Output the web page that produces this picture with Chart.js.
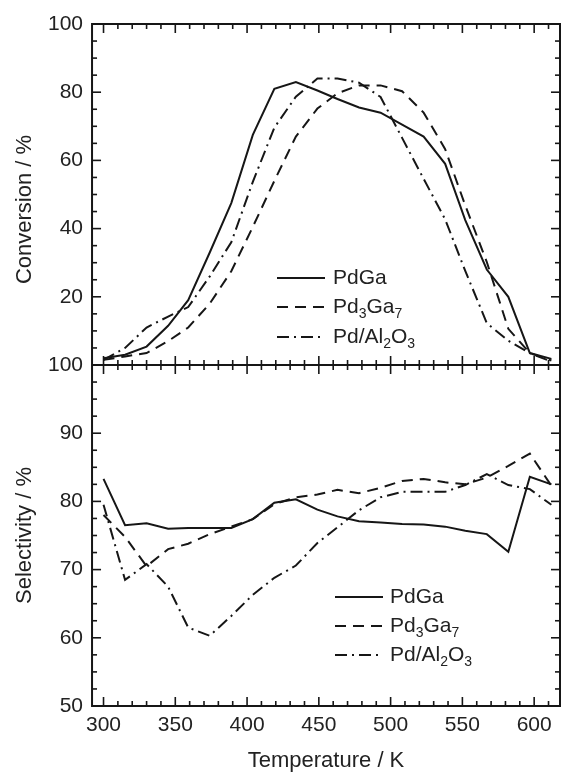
<!DOCTYPE html>
<html>
<head>
<meta charset="utf-8">
<script src="https://cdn.jsdelivr.net/npm/chart.js@4.4.1/dist/chart.umd.min.js"></script>
<style>
  html, body { margin: 0; background: #fff; }
  #wrap { position: relative; width: 563px; height: 775px; }
</style>
</head>
<body>
<div id="wrap"><canvas id="chart"></canvas></div>
<script>
// temperature ramp (K), shared by all runs
const temperature = [300, 315, 330, 345, 359, 374, 389, 404, 419, 434, 449,
                     463, 478, 493, 508, 523, 538, 552, 567, 582, 597, 612];

// conversion (%)
const convPdGa   = [2, 3, 5.4, 11.5, 19, 33, 47.5, 67.5, 81, 83, 80.5,
                    78, 75.5, 74, 70.5, 67, 59, 42.5, 28, 20, 3.5, 1.8];
const convPd3Ga7 = [1.5, 2.5, 3.5, 7, 11, 18, 27.5, 40.5, 54, 67, 75.2,
                    79.7, 82, 82, 80.3, 74, 63.3, 46.8, 30.2, 10.6, 3.5, 1.3];
const convPdAl   = [1.5, 5, 11, 14.2, 17, 26, 36, 53.7, 69.6, 78.7, 84,
                    84, 82.8, 78.6, 66.6, 54.6, 42.7, 27.6, 12.3, 7.1, 3.5, 1];

// selectivity (%)
const selPdGa   = [83.3, 76.5, 76.8, 76, 76.1, 76.1, 76.1, 77.4, 79.8, 80.3, 78.8,
                   77.8, 77.1, 76.9, 76.7, 76.6, 76.3, 75.7, 75.2, 72.6, 83.6, 82.5];
const selPd3Ga7 = [78, 74.8, 70.5, 73, 73.8, 75.2, 76.3, 77.4, 79.6, 80.6, 81,
                   81.7, 81.2, 82, 83, 83.3, 82.8, 82.5, 83.5, 85.2, 87, 82.3];
const selPdAl   = [79.5, 68.5, 70.8, 67.5, 61.5, 60.3, 63.2, 66.3, 68.8, 70.6, 73.9,
                   76.2, 78.7, 80.6, 81.4, 81.4, 81.4, 82.4, 84, 82.4, 81.8, 79.5];

// "_n" marks a subscript digit
const seriesNames = ['PdGa', 'Pd_3Ga_7', 'Pd/Al_2O_3'];

const FONT = '"Liberation Sans", Arial, sans-serif';
const INK = '#161616';
const dashes = [[], [11, 7], [12, 5, 2, 5]];

const toPoints = (ys) => temperature.map((t, i) => ({ x: t, y: ys[i] }));

const makeSet = (values, idx, axis) => ({
  label: seriesNames[idx],
  data: toPoints(values),
  yAxisID: axis,
  borderColor: INK,
  borderWidth: 2,
  borderDash: dashes[idx],
  pointRadius: 0,
  tension: 0,
  fill: false,
});

function drawName(ctx, name, x, y) {
  let cx = x;
  const parts = name.split(/(_\d)/).filter(Boolean);
  for (const p of parts) {
    const sub = p[0] === '_';
    const txt = sub ? p.slice(1) : p;
    ctx.font = (sub ? '14px ' : '21px ') + FONT;
    ctx.fillText(txt, cx, sub ? y + 7 : y);
    cx += ctx.measureText(txt).width;
  }
}

// frame, inward ticks on every side and the panel divider
const framePlugin = {
  id: 'frame',
  afterDatasetsDraw(chart) {
    const { ctx, chartArea: a, scales } = chart;
    const x = scales.x, yc = scales.yConv, ys = scales.ySel;
    const mid = yc.getPixelForValue(0);
    const seg = (x1, y1, x2, y2) => {
      ctx.beginPath(); ctx.moveTo(x1, y1); ctx.lineTo(x2, y2); ctx.stroke();
    };
    ctx.save();
    ctx.strokeStyle = INK;
    ctx.setLineDash([]);
    ctx.lineWidth = 2;
    ctx.strokeRect(a.left, a.top, a.width, a.height);
    seg(a.left, mid, a.right, mid);

    ctx.lineWidth = 1.6;
    for (let t = 300; t <= 610; t += 10) {
      const px = x.getPixelForValue(t);
      const len = t % 50 === 0 ? 9 : 5;
      seg(px, a.top, px, a.top + len);
      seg(px, a.bottom, px, a.bottom - len);
      seg(px, mid - len, px, mid + len);
    }
    for (let v = 0; v <= 100; v += 5) {
      const py = yc.getPixelForValue(v);
      const len = v % 20 === 0 ? 9 : 5;
      seg(a.left, py, a.left + len, py);
      seg(a.right, py, a.right - len, py);
    }
    for (let v = 50; v <= 100; v += 2.5) {
      const py = ys.getPixelForValue(v);
      const len = v % 10 === 0 ? 9 : 5;
      seg(a.left, py, a.left + len, py);
      seg(a.right, py, a.right - len, py);
    }
    ctx.restore();
  },
};

// axis titles and the two legends
const labelPlugin = {
  id: 'labels',
  afterDraw(chart) {
    const { ctx, chartArea: a, scales } = chart;
    const mid = scales.yConv.getPixelForValue(0);
    ctx.save();
    ctx.fillStyle = '#222';
    ctx.textBaseline = 'middle';
    ctx.textAlign = 'center';
    ctx.font = '22px ' + FONT;
    ctx.fillText('Temperature / K', (a.left + a.right) / 2, a.bottom + 55);

    const vTitle = (txt, cx, cy) => {
      ctx.save();
      ctx.translate(cx, cy);
      ctx.rotate(-Math.PI / 2);
      ctx.fillText(txt, 0, 0);
      ctx.restore();
    };
    vTitle('Conversion / %', a.left - 67, (a.top + mid) / 2 + 15);
    vTitle('Selectivity / %', a.left - 67, (mid + a.bottom) / 2);

    ctx.textAlign = 'left';
    const legends = [
      { x0: 277, x1: 325, tx: 333, rows: [278, 307, 337] },
      { x0: 335, x1: 383, tx: 390, rows: [597, 626, 655] },
    ];
    for (const lg of legends) {
      lg.rows.forEach((ry, i) => {
        ctx.strokeStyle = INK;
        ctx.lineWidth = 2;
        ctx.setLineDash(dashes[i]);
        ctx.beginPath(); ctx.moveTo(lg.x0, ry); ctx.lineTo(lg.x1, ry); ctx.stroke();
        ctx.setLineDash([]);
        drawName(ctx, seriesNames[i], lg.tx, ry);
      });
    }
    ctx.restore();
  },
};

const tickFont = { family: FONT, size: 21 };

new Chart(document.getElementById('chart'), {
  type: 'line',
  data: {
    datasets: [
      makeSet(convPdGa, 0, 'yConv'),
      makeSet(convPd3Ga7, 1, 'yConv'),
      makeSet(convPdAl, 2, 'yConv'),
      makeSet(selPdGa, 0, 'ySel'),
      makeSet(selPd3Ga7, 1, 'ySel'),
      makeSet(selPdAl, 2, 'ySel'),
    ],
  },
  options: {
    responsive: true,
    maintainAspectRatio: false,
    animation: false,
    layout: { padding: { left: 39, right: 3, top: 24, bottom: 37 } },
    plugins: { legend: { display: false }, tooltip: { enabled: false } },
    scales: {
      x: {
        type: 'linear', min: 292, max: 618,
        grid: { display: false, drawTicks: false },
        border: { display: false },
        afterFit: (s) => { s.height = 32; },
        ticks: { stepSize: 50, includeBounds: false, autoSkip: false, maxRotation: 0,
                 padding: 7, color: '#222', font: tickFont },
      },
      // stacked left axes: the later one sits on top
      ySel: {
        type: 'linear', position: 'left', stack: 'panels', stackWeight: 1,
        min: 50, max: 100,
        grid: { display: false, drawTicks: false },
        border: { display: false },
        ticks: { stepSize: 10, padding: 9, color: '#222', font: tickFont },
      },
      yConv: {
        type: 'linear', position: 'left', stack: 'panels', stackWeight: 1,
        min: 0, max: 100,
        grid: { display: false, drawTicks: false },
        border: { display: false },
        ticks: { stepSize: 20, padding: 9, color: '#222', font: tickFont,
                 callback: (v) => (v === 0 ? '' : v) },
      },
    },
  },
  plugins: [framePlugin, labelPlugin],
});
</script>
</body>
</html>
